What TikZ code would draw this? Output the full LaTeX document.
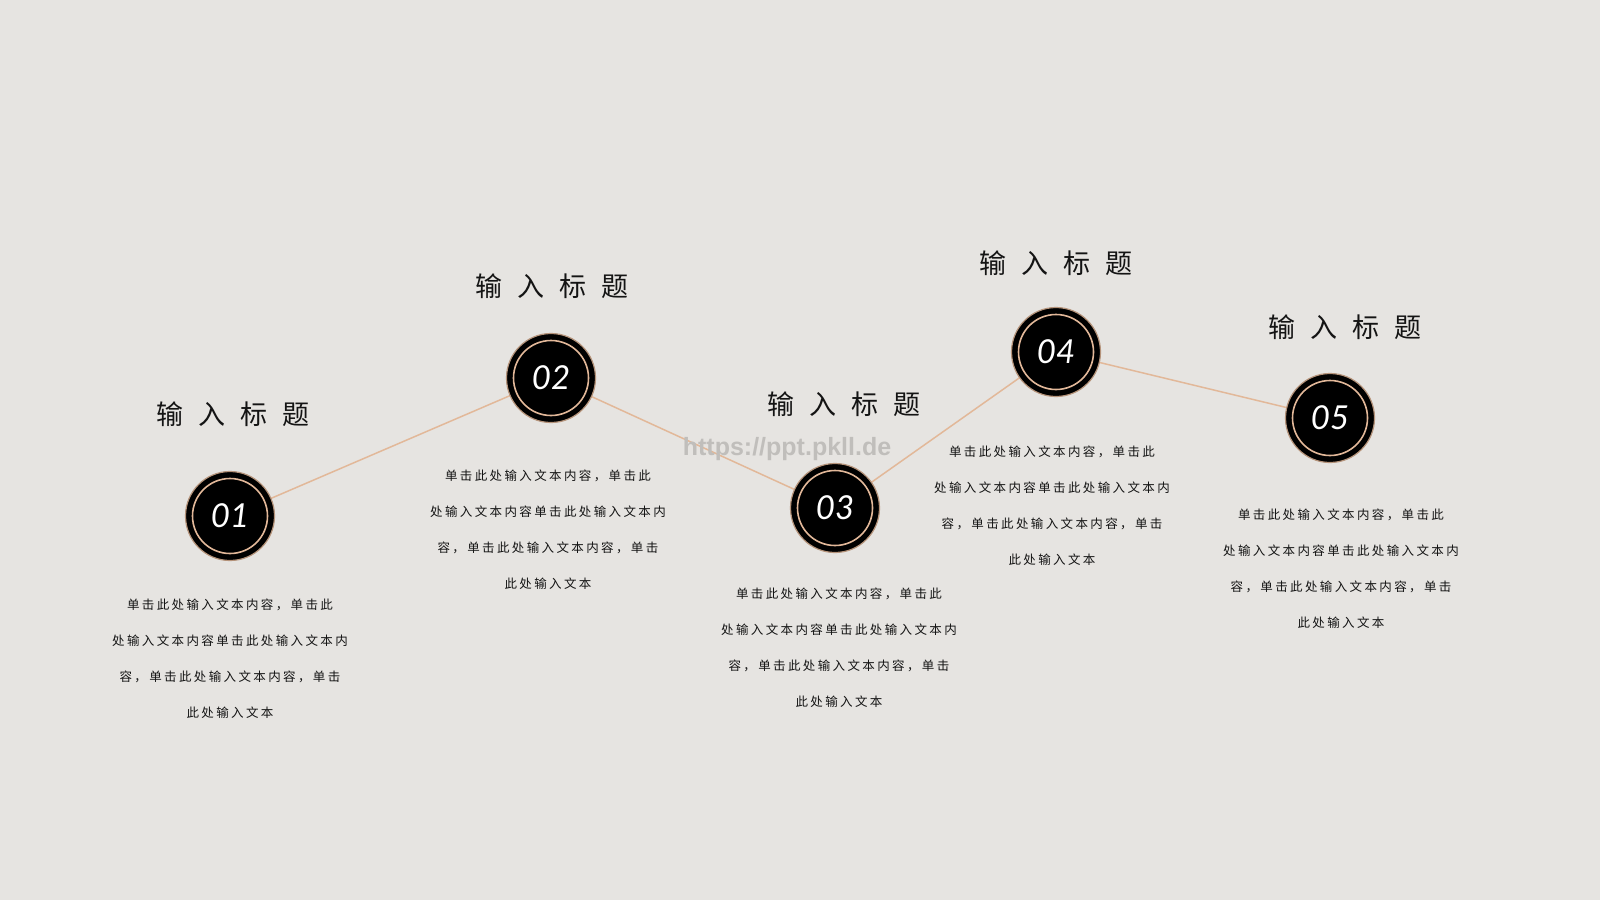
\documentclass[tikz,border=0pt]{standalone}
\usepackage{fontspec}
\newfontfamily\cjk{Noto Sans CJK SC}
\newfontfamily\cjkbody{Noto Sans CJK SC}[LetterSpace=19]
\newfontfamily\numfont{Lato}
\newfontfamily\wmfont{Liberation Sans}
\definecolor{bgc}{HTML}{E6E4E1}
\definecolor{peach}{HTML}{E2B899}
\definecolor{ink}{HTML}{141414}
\definecolor{wm}{HTML}{C0BEBB}
\tikzset{
  stepdot/.style={circle,fill=black,draw=peach!80!black,line width=1.2pt,minimum size=89pt,inner sep=0pt,
    text=white,font=\numfont\itshape\fontsize{33}{33}\selectfont},
  ring/.style={draw=peach,line width=1.6pt},
  link/.style={draw=peach,line width=1.5pt},
  ttl/.style={font=\cjk\fontsize{27}{27}\selectfont,text=ink,inner sep=0pt},
  bodytxt/.style={font=\cjkbody\fontsize{12.5}{36}\selectfont,text=ink,align=center,inner sep=0pt}
}
\newcommand{\ttltext}{输\hspace{15pt}入\hspace{15pt}标\hspace{15pt}题}
\newcommand{\bodytext}{单击此处输入文本内容，单击此\\处输入文本内容单击此处输入文本内\\容，单击此处输入文本内容，单击\\此处输入文本}
\begin{document}
\begin{tikzpicture}[x=1pt,y=-1pt]
\fill[bgc] (0,0) rectangle (1600,900);
\useasboundingbox (0,0) rectangle (1600,900);
\coordinate (c1) at (230,516);
\coordinate (c2) at (551,378);
\coordinate (c3) at (835,508);
\coordinate (c4) at (1056,352);
\coordinate (c5) at (1330,418);
% connectors
\draw[link] (c1) -- (c2) -- (c3) -- (c4) -- (c5);
% watermark
\node[font=\wmfont\bfseries\fontsize{25}{25}\selectfont,text=wm,inner sep=0pt] (wmark) at (787,449) {https://ppt.pkll.de};
% circles
\foreach \i in {1,...,5}{
  \node[stepdot] (n\i) at (c\i) {0\i};
  \draw[ring] (c\i) circle (37.5pt);
}
% titles
\node[ttl] (t1) at (233,414) {\ttltext};
\node[ttl] (t2) at (552,286) {\ttltext};
\node[ttl] (t3) at (844,404) {\ttltext};
\node[ttl] (t4) at (1056,263) {\ttltext};
\node[ttl] (t5) at (1345,327) {\ttltext};
% body texts
\node[bodytxt,anchor=north] (b1) at (230,599) {\bodytext};
\node[bodytxt,anchor=north] (b2) at (548,470) {\bodytext};
\node[bodytxt,anchor=north] (b3) at (839,588) {\bodytext};
\node[bodytxt,anchor=north] (b4) at (1052,446) {\bodytext};
\node[bodytxt,anchor=north] (b5) at (1341,509) {\bodytext};
\end{tikzpicture}
\end{document}
